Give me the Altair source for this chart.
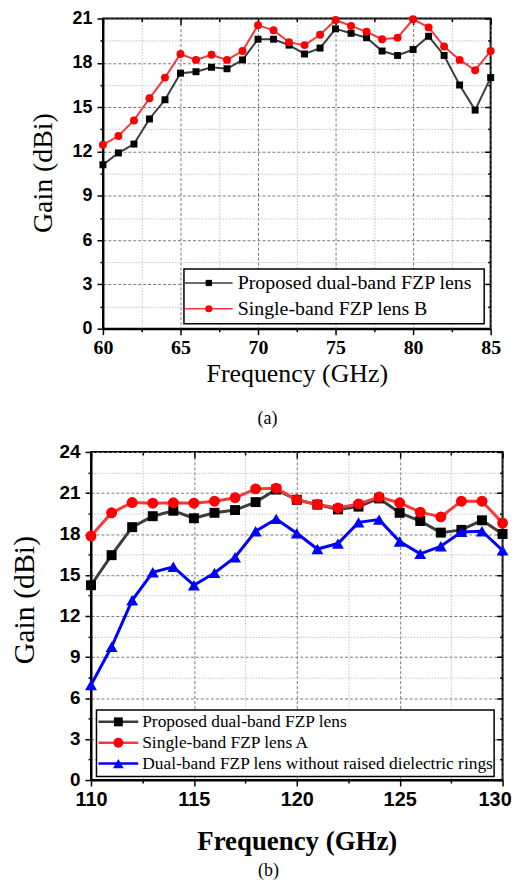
import altair as alt
import pandas as pd

# ---------------- Panel (a) values ----------------
freq_a = list(range(60, 86))
series_a = ["Proposed dual-band FZP lens", "Single-band FZP lens B"]
gain_a_proposed = [11.1, 11.9, 12.5, 14.2, 15.5, 17.3, 17.4, 17.7, 17.6, 18.2,
                   19.6, 19.6, 19.2, 18.6, 19.0, 20.3, 20.0, 19.7, 18.8, 18.5,
                   18.9, 19.8, 18.5, 16.5, 14.8, 17.0]
gain_a_single_b = [12.45, 13.05, 14.1, 15.6, 17.0, 18.6, 18.2, 18.55, 18.2, 18.8,
                   20.55, 20.2, 19.4, 19.2, 19.9, 20.9, 20.5, 20.1, 19.6, 19.7,
                   20.95, 20.4, 19.1, 18.2, 17.5, 18.8]
x_ticks_a = [60, 62.5, 65, 67.5, 70, 72.5, 75, 77.5, 80, 82.5, 85]
y_ticks_a = [0, 1.5, 3, 4.5, 6, 7.5, 9, 10.5, 12, 13.5, 15, 16.5, 18, 19.5, 21]

# ---------------- Panel (b) values ----------------
freq_b = list(range(110, 131))
series_b = ["Proposed dual-band FZP lens", "Single-band FZP lens A",
            "Dual-band FZP lens without raised dielectric rings"]
gain_b_proposed = [14.25, 16.45, 18.5, 19.3, 19.7, 19.15, 19.55, 19.75, 20.33, 21.25,
                   20.5, 20.15, 19.8, 20.0, 20.6, 19.55, 18.95, 18.1, 18.3, 19.0, 18.0]
gain_b_single_a = [17.85, 19.55, 20.3, 20.25, 20.28, 20.25, 20.4, 20.65, 21.3, 21.35,
                   20.5, 20.15, 19.9, 20.2, 20.7, 20.28, 19.6, 19.25, 20.4, 20.4, 18.8]
gain_b_no_rings = [6.95, 9.75, 13.15, 15.2, 15.6, 14.25, 15.15, 16.3, 18.2, 19.1,
                   18.05, 16.9, 17.3, 18.85, 19.05, 17.45, 16.55, 17.1, 18.15, 18.2, 16.8]
x_ticks_b = [110, 112.5, 115, 117.5, 120, 122.5, 125, 127.5, 130]
y_ticks_b = [0, 1.5, 3, 4.5, 6, 7.5, 9, 10.5, 12, 13.5, 15, 16.5, 18, 19.5, 21, 22.5, 24]

captions = ["(a)", "(b)"]

SERIF = "Liberation Serif"
SANS = "Liberation Sans"


def long_df(freqs, names, values):
    rows = []
    for name, vals in zip(names, values):
        for f, g in zip(freqs, vals):
            rows.append({"freq": f, "gain": g, "series": name})
    return pd.DataFrame(rows)


def major_test(major):
    return f"abs(datum.value % {major}) < 0.001"


def make_axis(values, major, title, label_font, label_size, label_pad,
              title_size, title_weight, **extra):
    test = major_test(major)
    return alt.Axis(
        values=values, title=title, format="d",
        labelExpr=f"({test}) ? datum.label : ''",
        labelFont=label_font, labelFontSize=label_size, labelFontWeight="bold",
        labelColor="black", labelPadding=label_pad, labelFlush=False, labelOverlap=False,
        tickSize={"condition": {"test": test, "value": 6}, "value": 3},
        tickColor="black", tickWidth=1.5,
        domainColor="black", domainWidth=2,
        grid=True,
        gridColor={"condition": {"test": test, "value": "#7a7a7a"}, "value": "#c2c2c2"},
        gridDash={"condition": {"test": test, "value": [3, 2]}, "value": [1.5, 1.5]},
        gridWidth=1,
        titleFont=SERIF, titleFontSize=title_size, titleFontWeight=title_weight,
        titleColor="black", **extra)


def mirror_axis(values, major, orient, offset):
    test = major_test(major)
    return alt.Axis(values=values, orient=orient, offset=offset, labels=False, title=None,
                    domain=False, grid=False, tickColor="black", tickWidth=1.5,
                    tickSize={"condition": {"test": test, "value": 6}, "value": 3})


def panel(df, names, line_colors, point_colors, shapes, sizes, line_width,
          width, height, x_field, y_field, x_axis, y_axis, x_mirror, y_mirror,
          leg, caption, cap_x, cap_y, left_ext, right_ext):
    x_plain = alt.X(x_field, scale=x_axis[0], axis=None)
    y_plain = alt.Y(y_field, scale=y_axis[0], axis=None)
    stroke_scale = alt.Scale(domain=names, range=line_colors)
    fill_scale = alt.Scale(domain=names, range=point_colors)

    layers = []
    layers.append(alt.Chart(df).mark_point(opacity=0).encode(
        x=alt.X(x_field, scale=x_axis[0], axis=x_axis[1]),
        y=alt.Y(y_field, scale=y_axis[0], axis=y_axis[1])))
    layers.append(alt.Chart(df).mark_point(opacity=0).encode(
        x=alt.X(x_field, scale=x_axis[0], axis=x_mirror),
        y=alt.Y(y_field, scale=y_axis[0], axis=y_mirror)))

    for name, shp, sz in zip(names, shapes, sizes):
        sub = alt.Chart(df).transform_filter(alt.datum.series == name)
        layers.append(sub.mark_line(strokeWidth=line_width).encode(
            x=x_plain, y=y_plain,
            stroke=alt.Stroke("series:N", scale=stroke_scale, legend=None)))
        layers.append(sub.mark_point(shape=shp, size=sz, filled=True, opacity=1,
                                     strokeWidth=0).encode(
            x=x_plain, y=y_plain,
            fill=alt.Fill("series:N", scale=fill_scale, legend=None)))

    # legend box drawn with marks
    bx0, bx1, by0, by1, lx0, lx1, tx, ry0, rstep, fsize, lw = leg
    box = alt.Chart(pd.DataFrame({"k": [0]})).mark_rect(
        fill="white", stroke="black", strokeWidth=1.5).encode(
        x=alt.value(bx0), x2=alt.value(bx1), y=alt.value(by0), y2=alt.value(by1))
    layers.append(box)
    for i, (name, lc, pc, shp, sz) in enumerate(zip(names, line_colors, point_colors,
                                                   shapes, sizes)):
        ry = ry0 + i * rstep
        one = alt.Chart(pd.DataFrame({"series": [name]}))
        layers.append(one.mark_rule(color=lc, strokeWidth=lw).encode(
            x=alt.value(lx0), x2=alt.value(lx1), y=alt.value(ry), y2=alt.value(ry)))
        layers.append(one.mark_point(shape=shp, size=sz * 0.8, filled=True, opacity=1,
                                     strokeWidth=0, color=pc).encode(
            x=alt.value((lx0 + lx1) / 2), y=alt.value(ry)))
        layers.append(one.mark_text(font=SERIF, fontSize=fsize, color="black",
                                    align="left", baseline="middle").encode(
            text="series:N", x=alt.value(tx), y=alt.value(ry)))

    cap = alt.Chart(pd.DataFrame({"cap": [caption]})).mark_text(
        font=SERIF, fontSize=18, color="black", align="center", baseline="middle").encode(
        text="cap:N", x=alt.value(cap_x), y=alt.value(cap_y))
    layers.append(cap)
    # invisible hairlines that fix the panel's horizontal extent for the layout
    for e in [left_ext, right_ext]:
        layers.append(alt.Chart(pd.DataFrame({"k": [0]})).mark_rule(
            color="white", strokeWidth=0.01).encode(
            x=alt.value(e), x2=alt.value(e), y=alt.value(0), y2=alt.value(1)))
    return alt.layer(*layers).resolve_axis(x="independent", y="independent").properties(
        width=width, height=height)


# ---------- panel (a) ----------
df_a = long_df(freq_a, series_a, [gain_a_proposed, gain_a_single_b])
xs_a = alt.Scale(domain=[60, 85], nice=False, zero=False)
ys_a = alt.Scale(domain=[0, 21], nice=False, zero=False)
ax_xa = make_axis(x_ticks_a, 5, "Frequency (GHz)", SERIF, 20, 3, 26, "normal",
                  orient="bottom", titleY=45, titleBaseline="middle")
ax_ya = make_axis(y_ticks_a, 3, "Gain (dBi)", SANS, 18, 5, 28, "normal",
                  orient="left", titleAngle=270, titleX=-59.5, titleY=155,
                  titleAlign="center", titleBaseline="middle")
W_A, H_A = 390, 312
leg_a = (81.5, 383.5, 252, 307, 82.5, 130.5, 135.5, 266, 26, 20, 1.5)
chart_a = panel(df_a, series_a, ["#3c3c3c", "#f43a3a"], ["#000000", "#ff0000"],
                ["square", "circle"], [49, 64], 2, W_A, H_A, "freq:Q", "gain:Q",
                (xs_a, ax_xa), (ys_a, ax_ya),
                mirror_axis(x_ticks_a, 5, "bottom", -H_A),
                mirror_axis(y_ticks_a, 3, "left", -W_A),
                leg_a, captions[0], 165.5, 403, -93.5, 398)

# ---------- panel (b) ----------
df_b = long_df(freq_b, series_b, [gain_b_proposed, gain_b_single_a, gain_b_no_rings])
xs_b = alt.Scale(domain=[110, 130], nice=False, zero=False)
ys_b = alt.Scale(domain=[0, 24], nice=False, zero=False)
ax_xb = make_axis(x_ticks_b, 5, "Frequency (GHz)", SANS, 20, 4, 27, "bold",
                  orient="bottom", titleY=62, titleBaseline="middle",
                  labelOffset={"condition": {"test": "datum.value >= 130", "value": -8},
                               "value": 0})
ax_yb = make_axis(y_ticks_b, 3, "Gain (dBi)", SANS, 19, 5, 30, "normal",
                  orient="left", titleAngle=270, titleX=-66.5, titleY=148.5,
                  titleAlign="center", titleBaseline="middle")
W_B, H_B = 414, 330
leg_b = (5.5, 405.5, 259.5, 326.5, 7.5, 47.5, 51.5, 271.5, 21, 17.5, 2.5)
chart_b = panel(df_b, series_b, ["#3c3c3c", "#f43a3a", "#0000ff"],
                ["#000000", "#ff0000", "#0000ff"],
                ["square", "circle", "triangle-up"], [100, 121, 144], 3,
                W_B, H_B, "freq:Q", "gain:Q", (xs_b, ax_xb), (ys_b, ax_yb),
                mirror_axis(x_ticks_b, 5, "bottom", -H_B),
                mirror_axis(y_ticks_b, 3, "left", -W_B),
                leg_b, captions[1], 178.5, 422, -81.5, 424)

chart = alt.vconcat(chart_a, chart_b, spacing=13, center=True).resolve_scale(
    fill="independent", stroke="independent", x="independent", y="independent"
).properties(
    padding={"top": -2, "left": 0, "right": 0, "bottom": 0}
).configure_view(stroke="black", strokeWidth=2)

chart.save("out.html", embed_options={"renderer": "svg", "actions": False})
